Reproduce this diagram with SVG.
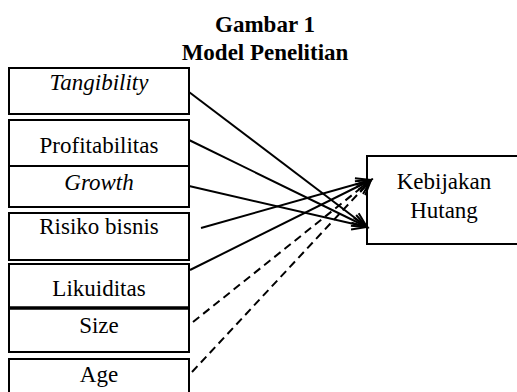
<svg xmlns="http://www.w3.org/2000/svg" width="517" height="392" viewBox="0 0 517 392">
<defs>
<style>
.box{fill:#fff;stroke:#000;stroke-width:2}
.t{font-family:"Liberation Serif","Times New Roman",serif;font-size:23px;fill:#000;text-anchor:middle}
.it{font-style:italic}
.title{font-family:"Liberation Serif","Times New Roman",serif;font-size:23px;font-weight:bold;fill:#000;text-anchor:middle}
.c{stroke:#000;stroke-width:2;fill:none;marker-end:url(#arr)}
.d{stroke-dasharray:8 5}
</style>
<marker id="arr" markerUnits="userSpaceOnUse" markerWidth="20" markerHeight="16" viewBox="-16 -8 20 16" refX="0" refY="0" orient="auto">
<path d="M-15,-6 L0,0 L-15,6" fill="none" stroke="#000" stroke-width="2"/>
</marker>
</defs>
<rect width="517" height="392" fill="#fff"/>
<text class="title" x="265" y="32">Gambar 1</text>
<text class="title" x="265" y="60">Model Penelitian</text>
<g id="tangibility"><rect class="box" x="9" y="68" width="180" height="46"/><text class="t it" x="99" y="90">Tangibility</text></g>
<g id="profitabilitas"><rect class="box" x="9" y="120" width="180" height="46"/><text class="t" x="99" y="153">Profitabilitas</text></g>
<g id="growth"><rect class="box" x="9" y="166" width="180" height="41"/><text class="t it" x="99" y="190">Growth</text></g>
<g id="risiko"><rect class="box" x="9" y="213" width="180" height="47"/><text class="t" x="99" y="234">Risiko bisnis</text></g>
<g id="likuiditas"><rect class="box" x="9" y="264" width="180" height="44"/><text class="t" x="99" y="296">Likuiditas</text></g>
<g id="size"><rect class="box" x="9" y="308" width="180" height="44"/><line x1="9" y1="308" x2="189" y2="308" stroke="#000" stroke-width="3.5"/><text class="t" x="99" y="333">Size</text></g>
<g id="age"><rect class="box" x="9" y="359" width="180" height="45"/><text class="t" x="99" y="382">Age</text></g>
<g id="kebijakan"><rect class="box" x="367" y="156" width="165" height="88"/><text class="t" x="444" y="189">Kebijakan</text><text class="t" x="444" y="218">Hutang</text></g>
<g id="connectors">
<line class="c" x1="189" y1="92" x2="367" y2="227"/>
<line class="c" x1="189" y1="140" x2="367" y2="227"/>
<line class="c" x1="189" y1="186" x2="367" y2="227"/>
<line class="c" x1="201" y1="228" x2="371" y2="180"/>
<line class="c" x1="190" y1="270" x2="371" y2="180"/>
<line class="c d" x1="193" y1="322" x2="371" y2="180"/>
<line class="c d" x1="192" y1="372" x2="371" y2="180"/>
</g>
</svg>
